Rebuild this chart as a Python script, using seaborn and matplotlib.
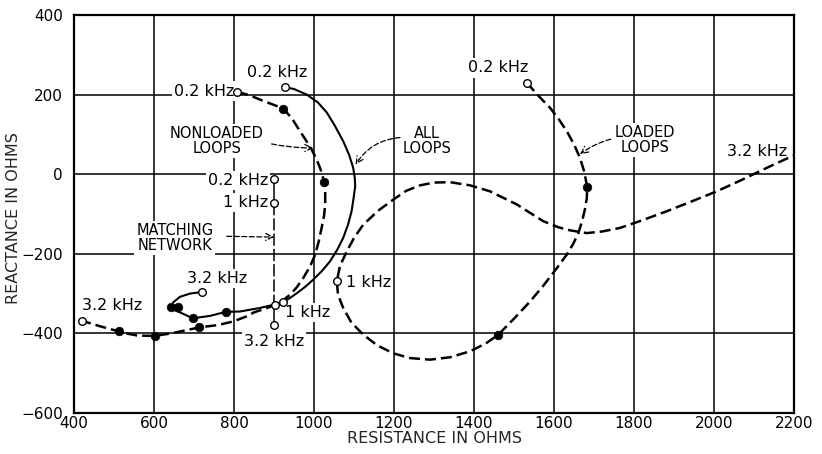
import matplotlib
matplotlib.use("Agg")
import matplotlib.pyplot as plt
import seaborn as sns
import pandas as pd

sns.set_style("white")
plt.rcParams['font.family'] = ['DejaVu Sans']

# ---- data (resistance R, reactance X, in ohms) ----
nonloaded_r = [808, 840, 873, 900, 923, 945, 965, 980, 994, 1006, 1015, 1021, 1025,
               1028, 1028, 1025, 1019, 1012, 1003, 990, 973, 957, 940, 922, 903,
               878, 850, 832, 798, 760, 713, 685, 657, 630, 602, 580, 557, 535,
               513, 490, 465, 442, 420]
nonloaded_x = [207, 198, 184, 174, 165, 140, 108, 85, 62, 38, 16, -2, -20,
               -48, -76, -105, -135, -168, -202, -232, -261, -284, -303, -317, -328,
               -338, -347, -357, -370, -379, -385, -391, -397, -402, -406, -406, -405, -401,
               -395, -389, -382, -375, -368]
nonloaded_dot_r = [923, 1025, 713, 602, 513]
nonloaded_dot_x = [165, -20, -385, -406, -395]
nonloaded_open_r = [808, 903, 420]
nonloaded_open_x = [207, -328, -368]

all_r = [927, 950, 982, 1010, 1032, 1052, 1073, 1088, 1098, 1102, 1103, 1099, 1094,
         1085, 1073, 1058, 1040, 1020, 998, 978, 957, 940, 922,
         895, 865, 815, 779, 740, 697, 669, 652, 642, 648, 665, 690, 719]
all_x = [219, 214, 200, 180, 155, 122, 83, 48, 16, -10, -30, -60, -93,
         -127, -160, -190, -219, -243, -265, -283, -299, -311, -321,
         -329, -336, -345, -346, -356, -362, -349, -342, -334, -322, -308, -300, -296]
all_dot_r = [779, 697, 661, 642]
all_dot_x = [-346, -362, -334, -334]
all_open_r = [927, 922, 719]
all_open_x = [219, -321, -296]

loaded_r = [1532, 1560, 1590, 1612, 1632, 1650, 1665, 1676, 1683, 1682, 1678, 1671,
            1661, 1648, 1632, 1607, 1575, 1540, 1500, 1461, 1430, 1390, 1340, 1290,
            1240, 1198, 1158, 1123, 1093, 1073, 1060, 1057, 1065, 1082, 1100, 1123,
            1160, 1198, 1230, 1265, 1300, 1340, 1390, 1440, 1507, 1573, 1610, 1640,
            1682, 1720, 1765, 1820, 1882, 1945, 2007, 2070, 2132, 2175, 2215]
loaded_x = [230, 198, 167, 138, 108, 75, 41, 5, -33, -60, -85, -115,
            -148, -175, -202, -236, -278, -320, -363, -403, -425, -445, -460, -466,
            -462, -450, -430, -403, -372, -336, -303, -269, -230, -194, -160, -127,
            -92, -64, -42, -28, -21, -20, -28, -43, -76, -118, -133, -141,
            -148, -144, -135, -116, -93, -68, -43, -14, 16, 36, 54]
loaded_dot_r = [1683, 1461]
loaded_dot_x = [-33, -403]
loaded_open_r = [1532, 1057, 2215]
loaded_open_x = [230, -269, 54]

match_r = [900, 900, 900, 900]
match_x = [-12, -72, -328, -378]
match_open_r = [900, 900, 900]
match_open_x = [-12, -72, -378]

x_ticks = [400, 600, 800, 1000, 1200, 1400, 1600, 1800, 2000, 2200]
y_ticks = [-600, -400, -200, 0, 200, 400]

# ---- figure ----
fig = plt.figure(figsize=(8.22, 4.54), dpi=100)
ax = fig.add_axes([74/822, 1-413/454, 720/822, 398/454])

dash = (0, (4.4, 2.0))
def curve(r, x, ls, lw, z=3):
    df = pd.DataFrame({"R": r, "X": x})
    sns.lineplot(data=df, x="R", y="X", sort=False, estimator=None, ax=ax,
                 color="black", linewidth=lw, linestyle=ls, zorder=z)

def pts(r, x, filled):
    df = pd.DataFrame({"R": r, "X": x})
    if filled:
        sns.scatterplot(data=df, x="R", y="X", ax=ax, s=38, color="black",
                        edgecolor="black", linewidth=0.5, zorder=5)
    else:
        sns.scatterplot(data=df, x="R", y="X", ax=ax, s=30, facecolor="white",
                        edgecolor="black", linewidth=1.0, zorder=5)

curve(nonloaded_r, nonloaded_x, dash, 1.8)
curve(all_r, all_x, "-", 1.5)
curve(loaded_r, loaded_x, dash, 1.8)
# matching network: solid, long-dashed, solid
curve(match_r[0:2], match_x[0:2], "-", 1.1)
curve(match_r[1:3], match_x[1:3], (0, (8, 2)), 1.1)
curve(match_r[2:4], match_x[2:4], "-", 1.1)

pts(nonloaded_dot_r, nonloaded_dot_x, True)
pts(all_dot_r, all_dot_x, True)
pts(loaded_dot_r, loaded_dot_x, True)
pts(nonloaded_open_r, nonloaded_open_x, False)
pts(all_open_r, all_open_x, False)
pts(loaded_open_r, loaded_open_x, False)
pts(match_open_r, match_open_x, False)

ax.set_xlim(400, 2200)
ax.set_ylim(-600, 400)
ax.set_xticks(x_ticks)
ax.set_yticks(y_ticks)
ax.set_xticklabels([str(v) for v in x_ticks])
ax.set_yticklabels([str(v).replace("-", "\u2212") for v in y_ticks])
ax.tick_params(axis="both", length=0, labelsize=11, colors="black")
ax.tick_params(axis="y", pad=8)
ax.tick_params(axis="x", pad=2)
ax.grid(True, color="black", linewidth=1.1)
ax.set_axisbelow(True)
for s in ax.spines.values():
    s.set_color("black")
    s.set_linewidth(1.6)

ax.set_xlabel("RESISTANCE IN OHMS", fontsize=11.5, labelpad=0)
ax.set_ylabel("REACTANCE IN OHMS", fontsize=11.5)
ax.yaxis.set_label_coords(-0.074, 0.49)

box = dict(facecolor="white", edgecolor="none", pad=1.5)
tk = dict(fontsize=11.5, color="black", bbox=box, zorder=2, va="center")

ax.text(800, 209, "0.2 kHz", ha="right", **tk)
ax.text(909, 255, "0.2 kHz", ha="center", **tk)
ax.text(1460, 267, "0.2 kHz", ha="center", **tk)
ax.text(2182, 56, "3.2 kHz", ha="right", **tk)
ax.text(885, -16, "0.2 kHz", ha="right", **tk)
ax.text(885, -72, "1 kHz", ha="right", **tk)
ax.text(757, -261, "3.2 kHz", ha="center", **tk)
ax.text(496, -330, "3.2 kHz", ha="center", **tk)
ax.text(928, -347, "1 kHz", ha="left", **tk)
ax.text(900, -420, "3.2 kHz", ha="center", **tk)
ax.text(1080, -271, "1 kHz", ha="left", **tk)

lk = dict(fontsize=10.5, color="black", bbox=box, zorder=2, va="center",
          ha="center", linespacing=1.0)
ax.text(757, 83, "NONLOADED\nLOOPS", **lk)
ax.text(1283, 84, "ALL\nLOOPS", **lk)
ax.text(1827, 85, "LOADED\nLOOPS", **lk)
ax.text(652, -160, "MATCHING\nNETWORK", **lk)

ap = dict(arrowstyle="->,head_length=0.5,head_width=0.25", color="black", lw=0.9,
          linestyle=(0, (4, 2)), shrinkA=0, shrinkB=0)
ax.annotate("", xy=(998, 66), xytext=(894, 76),
            arrowprops=dict(ap, connectionstyle="arc3,rad=0.05"))
ax.annotate("", xy=(1104, 24), xytext=(1215, 92),
            arrowprops=dict(ap, connectionstyle="arc3,rad=0.25"))
ax.annotate("", xy=(1665, 50), xytext=(1742, 88),
            arrowprops=dict(ap, connectionstyle="arc3,rad=0.1"))
ax.annotate("", xy=(900, -158), xytext=(782, -156),
            arrowprops=dict(ap))

fig.savefig("out.png", dpi=100)
